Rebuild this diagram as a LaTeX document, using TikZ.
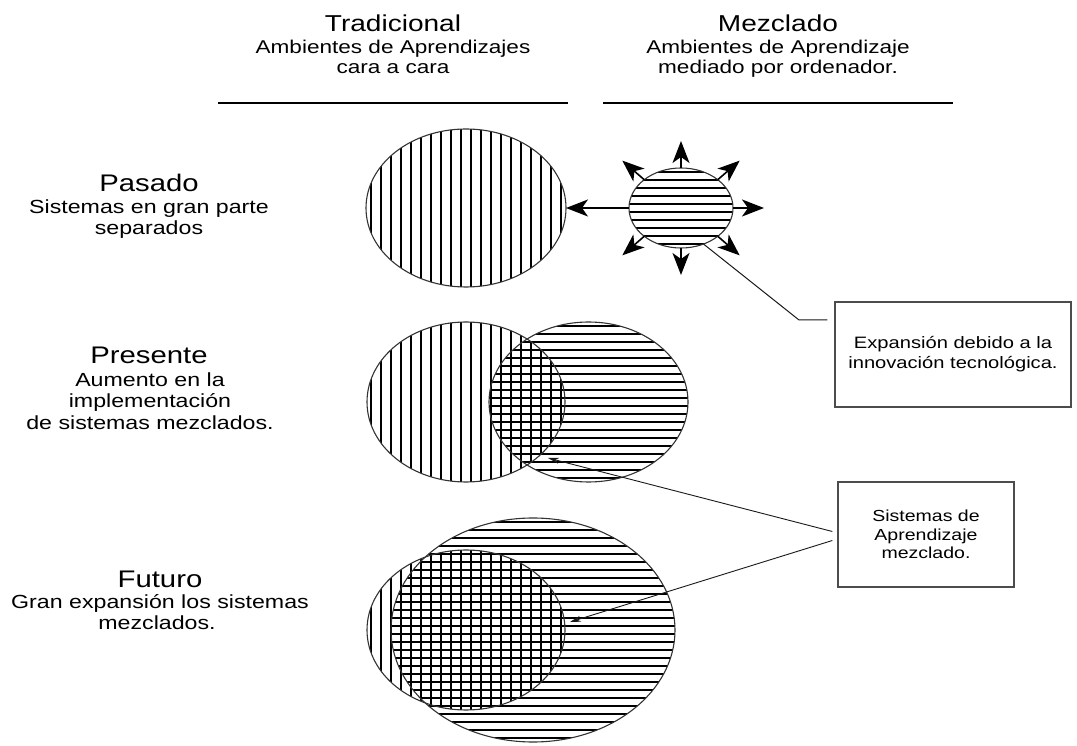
\documentclass[tikz,border=0pt]{standalone}
\usepackage{fontspec}
\setmainfont{Liberation Sans}[FakeStretch=1.22]
\usetikzlibrary{arrows.meta,shapes.geometric,calc}
\begin{document}
\begin{tikzpicture}[x=1pt,y=1pt,
  ell/.style={ellipse, draw=black!80, line width=1.1pt, inner sep=0pt, outer sep=0pt},
  hatch/.style={line width=1.2pt, black},
  ttl/.style={anchor=base, inner sep=0pt, font=\fontsize{24}{28}\selectfont},
  sub/.style={anchor=base, inner sep=0pt, font=\fontsize{19}{22}\selectfont},
  htl/.style={anchor=base, inner sep=0pt, font=\fontsize{23}{27}\selectfont},
  hsub/.style={anchor=base, inner sep=0pt, font=\fontsize{18.5}{21}\selectfont},
  box/.style={draw=black!70, line width=1.3pt, align=center, inner sep=4pt},
  bigarrow/.style={line width=1.6pt, -{Stealth[length=22pt,width=17pt,inset=6pt]}},
  conn/.style={line width=1pt, black!90},
  thinarrow/.style={line width=0.9pt, black!90, -{Stealth[length=11pt,width=6pt]}},
  rule/.style={line width=1.3pt, black}
]
\fill[white] (0,0) rectangle (1077,745);
\useasboundingbox (0,0) rectangle (1077,745);

% headers
\node[htl] (h1) at (393,713) {Tradicional};
\node[hsub] (h1a) at (393,691) {Ambientes de Aprendizajes};
\node[hsub] (h1b) at (393,671) {cara a cara};
\node[htl] (h2) at (778,713) {Mezclado};
\node[hsub] (h2a) at (778,691) {Ambientes de Aprendizaje};
\node[hsub] (h2b) at (778,671) {mediado por ordenador.};
\draw[rule] (218,642) -- (568,642);
\draw[rule] (603,642) -- (953,642);

% left labels
\node[ttl] (l1) at (149,553) {Pasado};
\node[sub] (l1a) at (149,531) {Sistemas en gran parte};
\node[sub] (l1b) at (149,510) {separados};
\node[ttl] (l2) at (149,381) {Presente};
\node[sub] (l2a) at (150,358) {Aumento en la};
\node[sub] (l2b) at (150,337) {implementación};
\node[sub] (l2c) at (150,315) {de sistemas mezclados.};
\node[ttl] (l3) at (160,157) {Futuro};
\node[sub] (l3a) at (160,136) {Gran expansión los sistemas};
\node[sub] (l3b) at (157,115) {mezclados.};

% ---- Pasado ----
\begin{scope}
  \clip (466,537) ellipse [x radius=100, y radius=79];
  \foreach \x in {371,381,...,561} \draw[hatch] (\x,450) -- (\x,620);
\end{scope}
\begin{scope}
  \clip (681,537) ellipse [x radius=52, y radius=40];
  \foreach \y in {501,509,...,573} \draw[hatch] (620,\y) -- (740,\y);
\end{scope}
\node[ell, minimum width=200pt, minimum height=158pt] (past) at (466,537) {};
\node[ell, minimum width=104pt, minimum height=80pt] (s) at (681,537) {};
\draw[bigarrow] (s.west) -- (past.east);
\foreach \a in {0,45,90,135,225,270,315}
  \draw[bigarrow] ($(s.center)+(\a:52 and 40)$) -- ($(s.center)+(\a:83 and 67)$);

% ---- Presente ----
\begin{scope}
  \clip (466,343) ellipse [x radius=99, y radius=80];
  \foreach \x in {371,381,...,561} \draw[hatch] (\x,255) -- (\x,430);
\end{scope}
\begin{scope}
  \clip (588.5,343) ellipse [x radius=99.5, y radius=80];
  \foreach \y in {267,275,...,419} \draw[hatch] (480,\y) -- (700,\y);
\end{scope}
\node[ell, minimum width=198pt, minimum height=160pt] (pl) at (466,343) {};
\node[ell, minimum width=199pt, minimum height=160pt] (pr) at (588.5,343) {};

% ---- Futuro ----
\begin{scope}
  \clip (466,115) ellipse [x radius=99, y radius=80];
  \foreach \x in {371,381,...,561} \draw[hatch] (\x,25) -- (\x,205);
\end{scope}
\begin{scope}
  \clip (533,115) ellipse [x radius=142, y radius=112];
  \foreach \y in {7,15,...,223} \draw[hatch] (380,\y) -- (690,\y);
\end{scope}
\node[ell, minimum width=198pt, minimum height=160pt] (fl) at (466,115) {};
\node[ell, minimum width=284pt, minimum height=224pt] (fb) at (533,115) {};

% ---- callout boxes ----
\node[box, minimum width=236pt, minimum height=105pt,
      font=\fontsize{16.5}{20}\selectfont] (b1) at (953,390.5)
      {Expansión debido a la\\innovación tecnológica.};
\node[box, minimum width=176pt, minimum height=105pt,
      font=\fontsize{16}{18.5}\selectfont] (b2) at (926,210.5)
      {Sistemas de\\Aprendizaje\\mezclado.};

\coordinate (bend) at (799,425);
\draw[conn, shorten >=7pt] (s.-58) -- (bend) -- (bend -| b1.west);

\coordinate (t1) at (548,287);
\coordinate (t2) at (570,123);
\draw[thinarrow] ([shift={(-5,3)}]b2.west) -- (t1);
\draw[thinarrow] ([shift={(-5,-6)}]b2.west) -- (t2);
\end{tikzpicture}
\end{document}
